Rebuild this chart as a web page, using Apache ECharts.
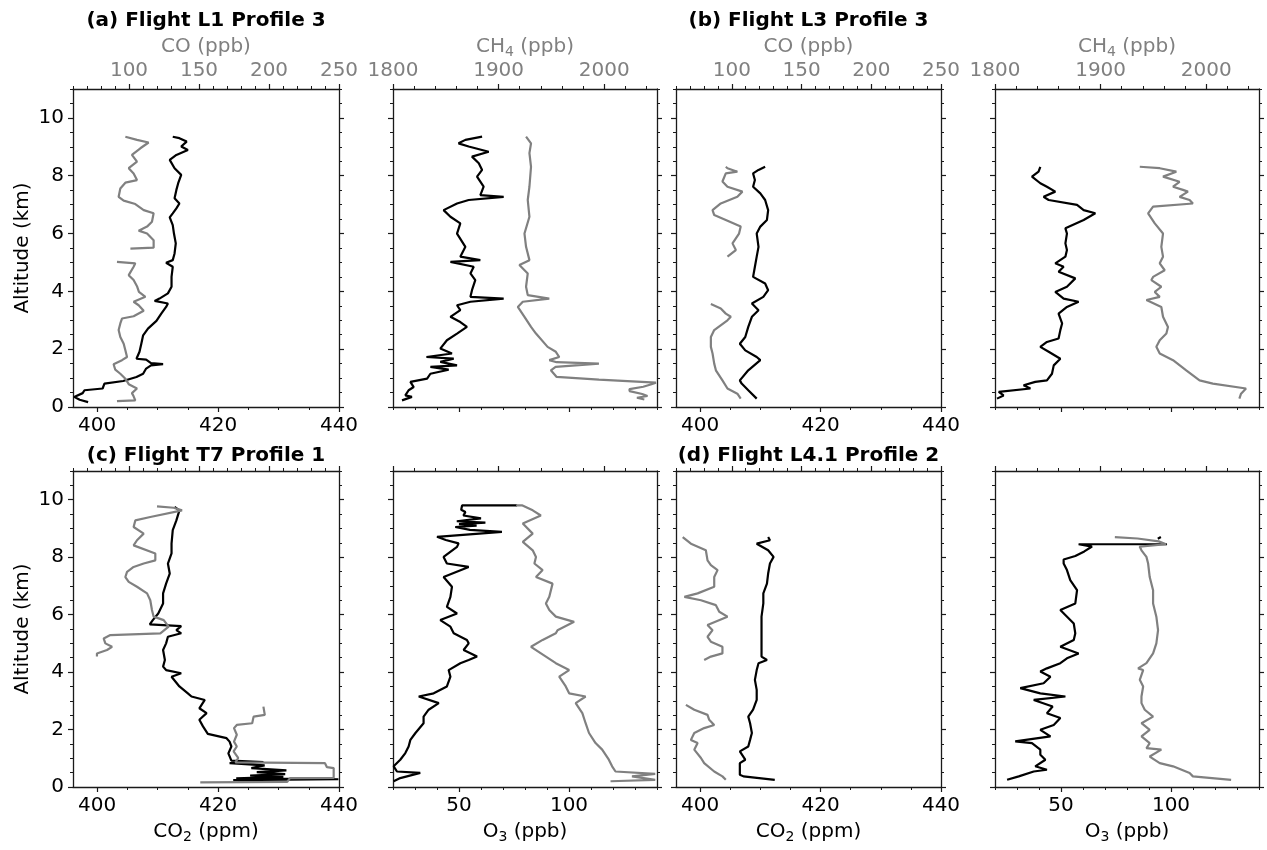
<!DOCTYPE html>
<html>
<head>
<meta charset="utf-8">
<script src="https://cdn.jsdelivr.net/npm/echarts@6/dist/echarts.min.js"></script>
<style>
  html, body { margin: 0; padding: 0; background: #ffffff; }
  #chart { width: 1267px; height: 850px; }
</style>
</head>
<body>
<div id="chart"></div>
<script>
// ---------------- axis ranges and tick labels ----------------
const altRange = [0, 11];
const altTicks = [0, 2, 4, 6, 8, 10];
const co2Range = [396, 440];
const co2Ticks = [400, 420, 440];
const coRange = [60, 250];
const coTicks = [100, 150, 200, 250];
const o3Range = [20, 140];
const o3Ticks = [50, 100];
const ch4Range = [1800, 2050];
const ch4Ticks = [1800, 1900, 2000];

const panelTitles = [
  '(a) Flight L1 Profile 3',
  '(b) Flight L3 Profile 3',
  '(c) Flight T7 Profile 1',
  '(d) Flight L4.1 Profile 2'
];

// ---------------- profiles: [altitude km, value] (null = data gap) ----------------
// (a) Flight L1 Profile 3
const a_co2 = [[0.17,398.5],[0.25,397.1],[0.35,396.2],[0.48,397.6],[0.58,397.9],[0.64,400.9],[0.81,401.2],[0.90,404.3],[1.04,406.5],[1.15,407.6],[1.33,408.1],[1.44,408.9],[1.48,410.9],[1.52,408.9],[1.64,408.1],[1.67,406.5],[1.73,406.2],[1.91,407.0],[2.19,407.3],[2.48,407.6],[2.71,408.4],[2.98,409.8],[3.23,410.6],[3.46,411.4],[3.58,411.7],[3.67,409.5],[3.75,410.3],[3.93,411.7],[4.16,412.3],[4.50,412.3],[4.85,412.5],[4.99,411.4],[5.08,412.5],[5.31,412.8],[5.66,413.0],[6.00,412.7],[6.29,412.5],[6.56,412.0],[6.70,412.5],[6.87,413.1],[7.04,413.6],[7.22,412.8],[7.51,413.1],[7.74,413.4],[8.03,413.9],[8.26,412.8],[8.55,412.0],[8.72,413.1],[8.89,415.0],[9.01,413.9],[9.18,414.8],[9.30,413.6],[9.35,412.5]];
const a_co = [[0.20,91.4],[0.23,104.5],[0.37,103.3],[0.48,102.1],[0.64,105.7],[0.79,99.8],[0.98,97.4],[1.15,93.8],[1.29,90.2],[1.48,89.0],[1.62,95.0],[1.73,98.6],[1.96,97.4],[2.19,96.2],[2.42,93.8],[2.66,92.6],[2.89,93.8],[3.06,95.0],[3.14,103.3],[3.33,110.5],[3.52,106.9],[3.64,103.3],[3.81,111.7],[3.98,107.1],[4.18,105.7],[4.39,103.3],[4.56,99.8],[4.85,103.3],[4.97,104.5],[5.02,91.4],null,[5.48,101.0],[5.51,117.6],[5.77,117.6],[6.00,112.9],[6.10,106.9],[6.24,112.9],[6.41,116.4],[6.70,117.6],[6.81,110.5],[7.02,104.5],[7.14,96.2],[7.27,92.6],[7.56,93.8],[7.76,97.4],[7.85,105.7],[8.08,103.3],[8.26,99.8],[8.49,105.7],[8.72,102.1],[8.95,108.1],[9.15,114.0],[9.24,105.7],[9.35,97.4]];
const a_o3 = [[0.23,24.1],[0.35,28.6],[0.40,25.6],[0.58,27.1],[0.69,29.4],[0.87,27.9],[0.98,35.5],[1.15,37.0],[1.29,45.3],[1.39,37.0],[1.44,49.1],[1.56,41.5],[1.67,47.6],[1.73,35.2],[1.85,46.8],[2.02,41.5],[2.31,44.5],[2.54,49.1],[2.77,53.6],[2.94,50.6],[3.12,46.1],[3.35,50.6],[3.52,49.1],[3.64,55.2],[3.75,70.3],[3.81,55.2],[4.04,55.9],[4.39,57.4],[4.62,55.2],[4.85,56.7],[5.02,46.1],[5.08,59.7],[5.20,50.6],[5.54,52.9],[6.00,49.1],[6.35,50.6],[6.58,46.1],[6.81,43.0],[7.04,49.1],[7.16,54.4],[7.27,70.3],[7.33,59.7],[7.62,61.2],[7.97,58.2],[8.20,60.5],[8.43,59.0],[8.66,55.9],[8.83,63.5],[9.01,54.4],[9.12,49.8],[9.24,52.9],[9.35,60.5]];
const a_ch4 = [[0.26,2038],[0.32,2031],[0.38,2041],[0.45,2036],[0.55,2024],[0.62,2024],[0.70,2037],[0.78,2044],[0.84,2049],[0.95,1995],[1.04,1955],[1.27,1949.5],[1.39,1954],[1.50,1995],[1.55,1955],[1.62,1948],[1.73,1957.4],[1.91,1954.2],[2.08,1946.4],[2.54,1935.4],[2.77,1930.7],[3.12,1924.5],[3.46,1918.2],[3.64,1922.9],[3.75,1948.0],[3.87,1927.6],[4.16,1926.0],[4.62,1927.6],[4.91,1919.7],[5.08,1929.2],[5.54,1926.0],[6.00,1924.5],[6.58,1929.2],[7.16,1927.6],[7.62,1929.2],[8.31,1930.7],[8.78,1929.2],[9.12,1930.7],[9.35,1926.0]];

// (b) Flight L3 Profile 3
const b_co2 = [[0.29,409.4],[0.58,408.0],[0.81,406.9],[0.92,406.6],[1.27,408.0],[1.62,410.0],[1.73,409.4],[1.96,407.5],[2.19,406.6],[2.42,407.5],[2.77,408.0],[3.12,408.6],[3.35,409.7],[3.58,408.6],[3.81,410.5],[4.04,411.3],[4.27,410.8],[4.50,408.8],[4.85,409.1],[5.20,409.4],[5.54,409.7],[6.00,409.4],[6.24,410.0],[6.47,411.1],[6.81,411.3],[7.16,410.8],[7.39,410.0],[7.62,408.8],[7.85,409.1],[8.08,408.8],[8.20,409.7],[8.31,410.8]];
const b_co = [[0.29,106.4],[0.46,104.0],[0.64,96.9],[0.92,93.3],[1.27,88.6],[1.50,87.4],[1.85,86.2],[2.08,85.0],[2.42,85.0],[2.66,87.4],[3.00,96.9],[3.12,99.3],[3.23,95.7],[3.41,92.1],[3.56,85.0],null,[5.20,96.9],[5.43,102.9],[5.66,100.5],[6.00,105.2],[6.24,106.4],[6.47,95.7],[6.64,87.4],[6.81,86.2],[7.04,92.1],[7.27,104.0],[7.45,107.6],[7.62,96.9],[7.80,93.3],[8.08,95.7],[8.14,104.0],[8.26,96.9],[8.31,95.7]];
const b_o3 = [[0.29,20.9],[0.40,23.9],[0.52,21.7],[0.64,36.1],[0.75,33.0],[0.87,38.3],[0.92,43.6],[1.15,45.9],[1.44,46.7],[1.67,49.7],[1.91,44.4],[2.08,40.6],[2.25,43.6],[2.37,48.9],[2.66,49.7],[2.89,50.5],[3.23,48.9],[3.46,52.7],[3.64,58.0],[3.75,51.2],[3.98,47.4],[4.16,52.7],[4.45,56.5],[4.68,48.9],[4.85,51.2],[4.97,47.4],[5.20,52.0],[5.43,52.7],[5.66,52.0],[6.00,52.7],[6.18,52.0],[6.47,60.3],[6.70,65.6],[6.81,60.3],[6.99,57.3],[7.16,44.4],[7.27,42.1],[7.45,47.4],[7.62,43.6],[7.74,40.6],[7.97,36.8],[8.14,39.8],[8.31,40.6]];
const b_ch4 = [[0.29,2031.4],[0.46,2033.0],[0.64,2037.7],[0.81,2006.3],[0.92,1993.7],[1.27,1981.1],[1.62,1968.6],[1.85,1956.0],[2.08,1952.8],[2.31,1956.0],[2.54,1962.3],[2.77,1963.8],[3.12,1959.1],[3.46,1957.5],[3.70,1943.4],[3.81,1956.0],[3.98,1951.3],[4.16,1957.5],[4.39,1948.1],[4.50,1949.7],[4.73,1960.7],[4.97,1956.0],[5.20,1959.1],[5.54,1957.5],[6.00,1959.1],[6.35,1951.3],[6.70,1945.0],[6.93,1949.7],[7.04,1987.4],[7.16,1984.3],[7.27,1974.8],[7.45,1982.7],[7.51,1978.0],[7.62,1968.6],[7.79,1974.8],[7.97,1959.1],[8.14,1971.7],[8.26,1956.0],[8.31,1937.1]];

// (c) Flight T7 Profile 1
const c_co2 = [[0.24,422.5],[0.27,439.9],[0.30,423.0],[0.35,430.8],[0.40,425.3],[0.45,431.1],[0.52,426.4],[0.58,431.3],[0.66,425.5],[0.75,427.7],[0.83,421.9],[0.87,427.5],[0.92,422.2],[1.17,421.7],[1.41,422.2],[1.58,421.9],[1.70,421.4],[1.85,418.3],[2.11,417.5],[2.34,416.9],[2.57,418.1],[2.74,416.9],[3.03,417.8],[3.15,415.6],[3.26,415.0],[3.50,413.6],[3.84,412.3],[3.96,413.9],[4.07,411.4],[4.19,410.9],[4.42,411.2],[4.77,410.9],[5.00,411.4],[5.23,411.7],[5.35,413.9],[5.46,413.1],[5.60,413.9],[5.66,408.7],[5.81,409.2],[6.04,410.1],[6.39,410.9],[6.74,410.9],[7.08,411.4],[7.43,412.0],[7.78,411.7],[8.13,412.3],[8.47,412.3],[8.94,412.5],[9.28,413.1],[9.63,413.6],[9.75,412.8]];
const c_co = [[0.16,150.9],[0.18,213.0],[0.31,215.0],[0.32,246.2],[0.66,246.2],[0.69,241.4],[0.83,240.0],[0.86,176.0],[1.01,178.0],[1.24,174.7],[1.41,177.0],[1.58,175.0],[1.82,177.0],[2.05,175.0],[2.16,177.0],[2.22,188.0],[2.45,189.0],[2.51,197.0],[2.80,196.0],null,[4.54,77.1],[4.65,77.1],[4.77,84.3],[4.88,87.9],[5.00,83.1],[5.17,81.9],[5.29,86.7],[5.35,122.4],[5.58,128.3],[5.81,124.8],[5.93,117.6],[6.16,116.4],[6.50,115.2],[6.74,112.9],[6.97,105.7],[7.14,99.8],[7.31,97.4],[7.49,98.6],[7.66,103.3],[7.78,110.5],[7.89,118.8],[8.13,118.8],[8.41,103.3],[8.59,105.7],[8.82,110.5],[9.05,103.3],[9.28,104.5],[9.40,115.2],[9.63,137.9],[9.72,131.9],[9.77,120.0]];
const c_o3 = [[0.20,20.3],[0.31,23.3],[0.49,32.4],[0.54,21.8],[0.72,20.3],[0.95,23.3],[1.18,25.6],[1.41,27.1],[1.64,27.9],[1.88,30.2],[2.22,33.9],[2.45,33.9],[2.69,36.2],[2.92,40.8],[3.15,31.7],[3.26,38.5],[3.50,44.5],[3.84,46.1],[4.07,45.3],[4.31,50.6],[4.42,54.4],[4.54,58.2],[4.77,52.1],[5.00,54.4],[5.12,53.6],[5.35,47.6],[5.58,46.1],[5.81,41.5],[6.04,49.1],[6.27,44.5],[6.62,46.1],[6.97,46.8],[7.31,43.0],[7.66,54.4],[7.78,44.5],[8.01,43.0],[8.36,49.1],[8.48,49.8],[8.60,44.0],[8.71,40.0],[8.88,69.5],[8.95,55.0],[9.05,48.3],[9.10,58.0],[9.15,50.0],[9.20,62.0],[9.25,49.0],[9.35,60.0],[9.45,52.0],[9.57,52.9],[9.65,51.0],[9.80,51.4],[9.80,76.4]];
const c_ch4 = [[0.20,2006.0],[0.25,2048.3],[0.37,2026.3],[0.46,2048.3],[0.54,2010.7],[0.72,2007.5],[0.95,2004.4],[1.30,1998.1],[1.53,1991.8],[1.88,1985.6],[2.22,1982.4],[2.57,1979.3],[2.92,1973.0],[3.15,1982.4],[3.26,1966.8],[3.50,1963.6],[3.84,1957.4],[4.07,1966.8],[4.31,1954.2],[4.54,1944.8],[4.88,1930.7],[5.12,1941.7],[5.35,1954.2],[5.46,1955.8],[5.75,1971.5],[5.93,1954.2],[6.16,1948.0],[6.39,1944.8],[6.62,1948.0],[7.08,1951.1],[7.31,1935.4],[7.55,1941.7],[7.78,1933.9],[8.01,1935.4],[8.24,1932.3],[8.53,1922.9],[8.82,1932.3],[9.17,1922.9],[9.45,1940.0],[9.63,1932.3],[9.80,1922.6],[9.80,1916.6]];

// (d) Flight L4.1 Profile 2
const d_co2 = [[0.25,412.4],[0.37,407.2],[0.43,406.6],[0.83,406.6],[0.95,407.5],[1.24,406.6],[1.41,408.0],[1.64,408.3],[1.88,408.6],[2.22,408.3],[2.45,408.0],[2.69,408.8],[3.03,409.4],[3.38,409.4],[3.73,409.1],[4.07,409.4],[4.31,409.7],[4.42,411.1],[4.54,410.2],[5.00,410.2],[5.46,410.2],[5.93,410.2],[6.39,410.5],[6.74,410.5],[7.08,411.1],[7.43,411.3],[7.78,411.6],[8.01,412.2],[8.24,411.3],[8.47,409.4],[8.59,411.6],[8.70,411.3]];
const d_co = [[0.25,95.7],[0.37,93.3],[0.54,87.4],[0.83,80.2],[1.01,77.9],[1.30,73.1],[1.53,75.5],[1.64,70.7],[1.88,73.1],[2.05,80.2],[2.16,87.4],[2.34,83.8],[2.51,82.6],[2.69,73.1],[2.86,67.1],null,[4.42,80.2],[4.54,85.0],[4.65,93.3],[4.88,93.3],[5.06,85.0],[5.23,82.6],[5.46,86.2],[5.64,82.6],[5.93,96.9],[6.10,91.0],[6.33,88.6],[6.50,77.9],[6.62,66.0],[6.74,75.5],[6.97,87.4],[7.31,87.4],[7.55,89.8],[7.72,85.0],[7.89,82.6],[8.24,81.4],[8.47,70.7],[8.70,64.8]];
const d_o3 = [[0.25,25.5],[0.37,30.8],[0.54,37.6],[0.60,43.6],[0.72,38.3],[0.95,42.9],[1.12,40.6],[1.30,40.6],[1.53,36.8],[1.59,29.2],[1.76,45.2],[1.99,40.6],[2.16,46.7],[2.40,49.7],[2.57,43.6],[2.80,46.2],[3.03,37.6],[3.15,52.0],[3.26,40.6],[3.44,31.5],[3.61,42.1],[3.84,45.2],[4.02,40.6],[4.13,43.6],[4.31,49.7],[4.48,52.7],[4.65,58.0],[4.88,49.7],[5.12,55.8],[5.35,56.5],[5.69,55.8],[6.16,49.7],[6.39,56.5],[6.85,57.3],[7.20,54.2],[7.55,52.7],[7.78,51.2],[7.92,51.2],[8.04,56.5],[8.20,60.6],[8.37,64.1],[8.45,58.0],[8.45,98.2],null,[8.64,94.0],[8.70,95.4]];
const d_ch4 = [[0.25,2023.6],[0.37,1987.4],[0.49,1984.3],[0.72,1968.6],[0.83,1956.0],[1.06,1946.5],[1.30,1957.5],[1.35,1943.4],[1.53,1946.5],[1.76,1938.7],[1.99,1946.5],[2.22,1938.7],[2.45,1949.7],[2.69,1941.8],[2.92,1938.7],[3.15,1938.7],[3.50,1940.3],[3.73,1937.1],[4.07,1940.3],[4.13,1935.5],[4.31,1943.4],[4.65,1949.7],[5.00,1952.8],[5.46,1954.4],[5.93,1952.8],[6.39,1949.7],[6.85,1949.7],[7.31,1946.5],[7.78,1945.0],[8.01,1943.4],[8.24,1938.7],[8.37,1937.0],[8.45,1962.0],[8.55,1955.0],[8.65,1935.0],[8.70,1913.5]];

const flights = [
  { co2: a_co2, co: a_co, o3: a_o3, ch4: a_ch4 },
  { co2: b_co2, co: b_co, o3: b_o3, ch4: b_ch4 },
  { co2: c_co2, co: c_co, o3: c_o3, ch4: c_ch4 },
  { co2: d_co2, co: d_co, o3: d_o3, ch4: d_ch4 }
];

// ---------------- styling & layout ----------------
const INK = '#000000';
const FRAME = '#1a1a1a';
const GRAY = '#808080';
const FONT = 'DejaVu Sans';
const FS = 20;

const colBox = [
  { left: 73, right: 928 },
  { left: 393, right: 610 },
  { left: 676, right: 326 },
  { left: 995, right: 8 }
];
const rowBox = [
  { top: 89, bottom: 443 },
  { top: 471, bottom: 63 }
];

function stepValues(range, step) {
  const out = [];
  const start = Math.ceil(range[0] / step - 1e-9) * step;
  for (let v = start; v <= range[1] + 1e-9; v += step) out.push(+v.toFixed(6));
  return out;
}

const subRich = (color) => ({
  n: { fontSize: FS, fontFamily: FONT, color: color, lineHeight: 24, verticalAlign: 'middle' },
  s: { fontSize: 14, fontFamily: FONT, color: color, lineHeight: 24, verticalAlign: 'bottom' }
});

const grids = [], xAxes = [], yAxes = [], series = [];

function baseAxis(gridIndex, position, range) {
  return {
    type: 'value', gridIndex: gridIndex, position: position,
    min: range[0], max: range[1], scale: true,
    splitLine: { show: false }, minorTick: { show: false }, silent: true,
    axisLine: { show: false, onZero: false },
    axisPointer: { show: false }
  };
}

// one axis carrying the frame line, major ticks and labels; a twin one carrying the minor ticks
function addAxisPair(list, gridIndex, position, range, majors, minorStep, opts) {
  const major = baseAxis(gridIndex, position, range);
  major.axisLine = { show: true, onZero: false, lineStyle: { color: FRAME, width: 1.3 } };
  major.axisTick = { show: true, length: 5, customValues: majors, lineStyle: { color: FRAME, width: 1.2 } };
  major.axisLabel = {
    show: !!opts.labels, customValues: majors, color: opts.color || INK,
    fontSize: FS, fontFamily: FONT, margin: opts.margin || 8,
    formatter: (v) => String(v)
  };
  if (opts.name) {
    major.name = opts.name;
    major.nameLocation = 'middle';
    major.nameGap = opts.nameGap;
    major.nameTextStyle = { fontSize: FS, fontFamily: FONT, color: opts.color || INK, rich: subRich(opts.color || INK) };
  }
  list.push(major);
  const idx = list.length - 1;

  const minor = baseAxis(gridIndex, position, range);
  minor.axisTick = { show: true, length: 3, customValues: stepValues(range, minorStep), lineStyle: { color: FRAME, width: 1 } };
  minor.axisLabel = { show: false };
  list.push(minor);
  return idx;
}

function toXY(profile) {
  return profile.map(p => p == null ? ['-', '-'] : [p[1], p[0]]);
}

function addLine(profile, xi, yi, color) {
  series.push({
    type: 'line', xAxisIndex: xi, yAxisIndex: yi, data: toXY(profile),
    showSymbol: false, symbol: 'none', connectNulls: false, clip: true,
    lineStyle: { color: color, width: 2.2 }, itemStyle: { color: color },
    animation: false, silent: true, z: color === GRAY ? 3 : 2
  });
}

flights.forEach((f, fi) => {
  const row = Math.floor(fi / 2);
  const pair = fi % 2;
  const topRow = row === 0;

  [0, 1].forEach(k => {
    const col = pair * 2 + k;
    grids.push({
      left: colBox[col].left, right: colBox[col].right,
      top: rowBox[row].top, bottom: rowBox[row].bottom,
      containLabel: false, show: false
    });
    const gi = grids.length - 1;
    const isCarbon = k === 0;

    const bottomRange = isCarbon ? co2Range : o3Range;
    const bottomTicks = isCarbon ? co2Ticks : o3Ticks;
    const bottomMinor = isCarbon ? 5 : 10;
    const bottomName = isCarbon ? '{n|CO}{s|2}{n| (ppm)}' : '{n|O}{s|3}{n| (ppb)}';
    const xb = addAxisPair(xAxes, gi, 'bottom', bottomRange, bottomTicks, bottomMinor, {
      labels: !topRow || isCarbon, margin: 9,
      name: topRow ? null : bottomName, nameGap: 33
    });

    const topRange = isCarbon ? coRange : ch4Range;
    const topTicks = isCarbon ? coTicks : ch4Ticks;
    const topMinor = isCarbon ? 10 : 20;
    const topName = isCarbon ? '{n|CO (ppb)}' : '{n|CH}{s|4}{n| (ppb)}';
    const xt = addAxisPair(xAxes, gi, 'top', topRange, topTicks, topMinor, {
      labels: topRow, color: GRAY, margin: 8,
      name: topRow ? topName : null, nameGap: 30
    });

    const yl = addAxisPair(yAxes, gi, 'left', altRange, altTicks, 0.5, {
      labels: col === 0, margin: 9,
      name: col === 0 ? 'Altitude (km)' : null, nameGap: 40
    });
    addAxisPair(yAxes, gi, 'right', altRange, altTicks, 0.5, { labels: false });

    if (isCarbon) {
      addLine(f.co2, xb, yl, INK);
      addLine(f.co, xt, yl, GRAY);
    } else {
      addLine(f.o3, xb, yl, INK);
      addLine(f.ch4, xt, yl, GRAY);
    }
  });
});

// panel titles centred over the CO2 panel of each flight
const titleGraphics = panelTitles.map((t, i) => {
  const row = Math.floor(i / 2);
  const col = (i % 2) * 2;
  const cx = (colBox[col].left + (1267 - colBox[col].right)) / 2;
  return {
    type: 'text', x: cx, y: row === 0 ? 21 : 456, silent: true,
    style: {
      text: t, fill: INK, font: 'bold ' + FS + 'px "' + FONT + '"',
      textAlign: 'center', textVerticalAlign: 'middle'
    }
  };
});

const chart = echarts.init(document.getElementById('chart'), null, { renderer: 'canvas' });
chart.setOption({
  animation: false,
  backgroundColor: '#ffffff',
  textStyle: { fontFamily: FONT },
  grid: grids,
  xAxis: xAxes,
  yAxis: yAxes,
  series: series,
  graphic: titleGraphics
});
</script>
</body>
</html>
